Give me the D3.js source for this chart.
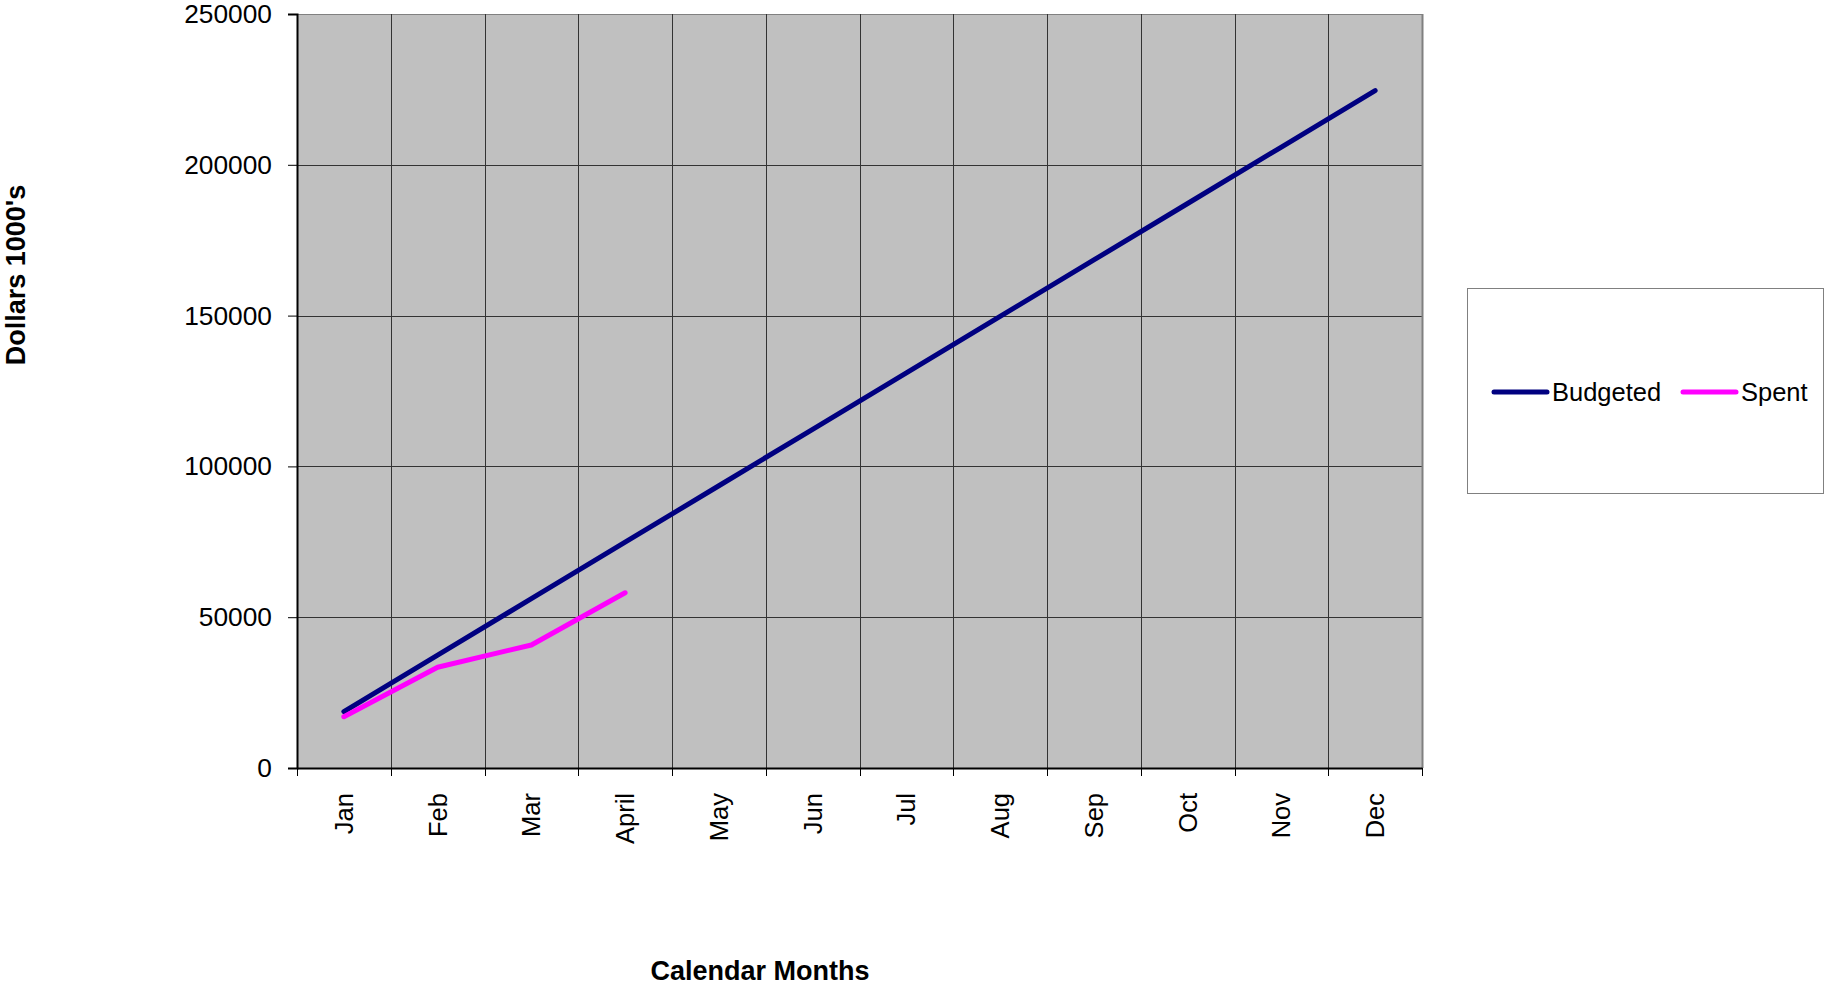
<!DOCTYPE html>
<html><head><meta charset="utf-8">
<script src="https://cdn.jsdelivr.net/npm/d3@7"></script>
<style>body{margin:0;background:#fff;}svg{display:block;font-family:"Liberation Sans",Arial,sans-serif;}</style>
</head><body>
<svg id="c" width="1825" height="986"></svg>
<script>
const months = ["Jan","Feb","Mar","April","May","Jun","Jul","Aug","Sep","Oct","Nov","Dec"];
const budgeted = [18717,37433,56150,74867,93583,112300,131017,149733,168450,187167,205883,224600];
const spent = [17000,33400,40800,58100];
const yTicks = [0,50000,100000,150000,200000,250000];
const seriesNames = ["Budgeted","Spent"];
const seriesColors = ["#000080","#ff00ff"];

const svg = d3.select("#c");
const L=297,R=1422,T=14,B=768;
const x = d3.scaleBand().domain(months).range([L,R]);
const y = d3.scaleLinear().domain([0,250000]).range([B,T]);

svg.append("rect").attr("x",L).attr("y",T).attr("width",R-L).attr("height",B-T).attr("fill","#c0c0c0");

const g = svg.append("g");
yTicks.forEach(v=>{ g.append("line").attr("x1",L).attr("x2",R).attr("y1",Math.round(y(v))+0.5).attr("y2",Math.round(y(v))+0.5).attr("stroke", v===250000?"#808080":"#333").attr("stroke-width",1);});
months.forEach((m,i)=>{ if(i>0){ const xx=Math.round(x(m))+0.5; g.append("line").attr("x1",xx).attr("x2",xx).attr("y1",T).attr("y2",B).attr("stroke","#333").attr("stroke-width",1);} });
svg.append("line").attr("x1",R+0.5).attr("x2",R+0.5).attr("y1",T).attr("y2",B).attr("stroke","#808080").attr("stroke-width",2);

const ya = svg.append("g").attr("transform",`translate(${L},0)`)
  .call(d3.axisLeft(y).tickValues(yTicks).tickSize(9).tickPadding(16).tickFormat(d3.format("d")));
ya.select(".domain").attr("stroke","#000").attr("stroke-width",2);
ya.selectAll(".tick line").attr("stroke","#000");
ya.selectAll("text").attr("font-size",26.3).attr("font-family","Liberation Sans, Arial, sans-serif").attr("fill","#000");

const xa = svg.append("g").attr("transform",`translate(0,${B})`)
  .call(d3.axisBottom(x).tickSize(0).tickFormat(""));
xa.select(".domain").attr("stroke","#000").attr("stroke-width",2);
const boundaries = months.map(m=>x(m)).concat([R]);
boundaries.forEach(b=>{ xa.append("line").attr("x1",Math.round(b)+0.5).attr("x2",Math.round(b)+0.5).attr("y1",0).attr("y2",8).attr("stroke","#000");});
months.forEach(m=>{
  const cx = x(m)+x.bandwidth()/2;
  svg.append("text").attr("transform",`translate(${cx+9},${B+25}) rotate(-90)`)
    .attr("text-anchor","end").attr("font-size",25.5).attr("fill","#000").text(m);
});

const line = d3.line().x((d,i)=>x(months[i])+x.bandwidth()/2).y(d=>y(d));
[budgeted,spent].forEach((s,k)=>{
  svg.append("path").attr("d",line(s)).attr("fill","none").attr("stroke",seriesColors[k])
    .attr("stroke-width",5).attr("stroke-linecap","round").attr("stroke-linejoin","round");
});

svg.append("text").attr("x",760).attr("y",980).attr("text-anchor","middle").attr("font-size",27).attr("font-weight","bold").text("Calendar Months");
svg.append("text").attr("transform","translate(25,275) rotate(-90)").attr("text-anchor","middle").attr("font-size",27).attr("font-weight","bold").text("Dollars 1000's");

svg.append("rect").attr("x",1467.5).attr("y",288.5).attr("width",356).attr("height",205).attr("fill","#fff").attr("stroke","#808080").attr("stroke-width",1);
const lx = [1494,1683];
seriesNames.forEach((n,k)=>{
  svg.append("line").attr("x1",lx[k]).attr("x2",lx[k]+53).attr("y1",392).attr("y2",392).attr("stroke",seriesColors[k]).attr("stroke-width",5).attr("stroke-linecap","round");
  svg.append("text").attr("x",lx[k]+58).attr("y",401).attr("font-size",25.5).attr("fill","#000").text(n);
});
</script>
</body></html>
